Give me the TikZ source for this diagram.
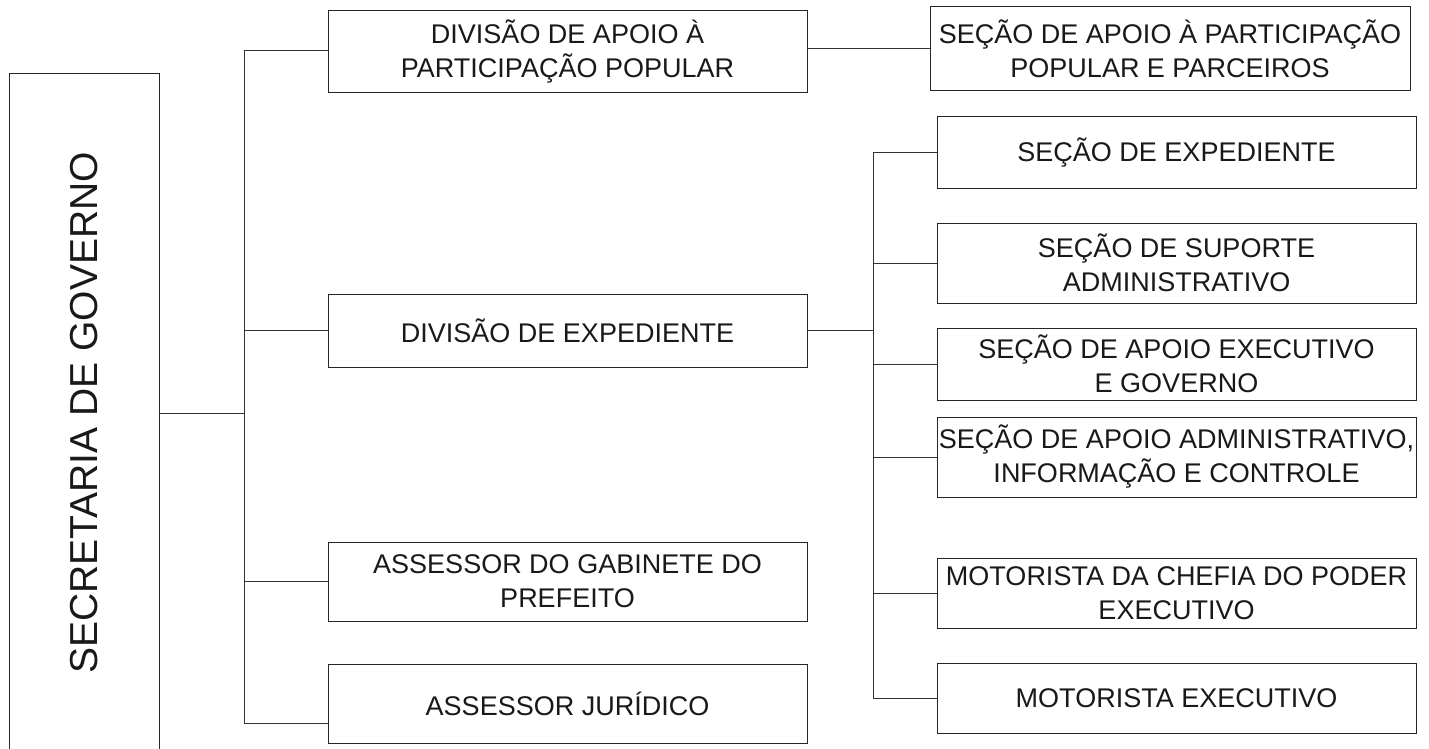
\documentclass[tikz,border=0pt]{standalone}
\usepackage{fontspec}
\setmainfont{Liberation Sans}
\tikzset{
  box/.style={draw=black!85, line width=1pt, inner sep=0pt, outer sep=0pt, align=center,
    font=\fontsize{27}{34}\selectfont, text=black!90},
  lbox/.style={box, minimum width=479pt},
  rbox/.style={box, minimum width=479pt},
  conn/.style={draw=black!80, line width=1pt},
}
\begin{document}
\begin{tikzpicture}[x=1pt,y=-1pt]
\useasboundingbox (0,0) rectangle (1429,749);
\fill[white] (0,0) rectangle (1429,749);
% root
\node[box, minimum width=150pt, minimum height=678pt] (sec) at (84,413)
  {\rotatebox{90}{\fontsize{39}{39}\selectfont SECRETARIA DE GOVERNO}};
% left column
\node[lbox, minimum height=82pt] (dap) at (567.5,52) {DIVISÃO DE APOIO À\\PARTICIPAÇÃO POPULAR};
\node[lbox, minimum height=73pt] (dex) at (567.5,330.5) {DIVISÃO DE EXPEDIENTE};
\node[lbox, minimum height=79pt] (agp) at (567.5,581.5) {ASSESSOR DO GABINETE DO\\PREFEITO};
\node[lbox, minimum height=79pt] (ajr) at (567.5,703.5) {ASSESSOR JURÍDICO};
% right column
\node[box, minimum width=480pt, minimum height=84pt] (sap) at (1170,49) {SEÇÃO DE APOIO À PARTICIPAÇÃO\\POPULAR E PARCEIROS};
\node[rbox, minimum height=71pt] (sexp) at (1176.5,152.5) {SEÇÃO DE EXPEDIENTE};
\node[rbox, minimum height=80pt] (ssup) at (1176.5,263) {SEÇÃO DE SUPORTE\\ADMINISTRATIVO};
\node[rbox, minimum height=72pt] (sexe) at (1176.5,364) {SEÇÃO DE APOIO EXECUTIVO\\E GOVERNO};
\node[rbox, minimum height=80pt] (sadm) at (1176.5,457) {SEÇÃO DE APOIO ADMINISTRATIVO,\\INFORMAÇÃO E CONTROLE};
\node[rbox, minimum height=70pt] (mch) at (1176.5,593) {MOTORISTA DA CHEFIA DO PODER\\EXECUTIVO};
\node[rbox, minimum height=70pt] (mex) at (1176.5,698) {MOTORISTA EXECUTIVO};
% bus 1
\coordinate (b1t) at (244,51);
\coordinate (b1b) at (244,723);
\draw[conn] (sec.east) -- (sec.east -| b1t);
\draw[conn] (b1t) -- (b1b);
\draw[conn] (b1t) -- (b1t -| dap.west);
\draw[conn] (dex.west -| b1t) -- (dex.west);
\draw[conn] (agp.west -| b1t) -- (agp.west);
\draw[conn] (b1b) -- (b1b -| ajr.west);
% dap to sap
\draw[conn] (dap.east |- sap.west) -- (sap.west);
% bus 2
\coordinate (b2) at (873,330.5);
\draw[conn] (dex.east) -- (b2);
\draw[conn] (sexp.west -| b2) -- (mex.west -| b2);
\foreach \n in {sexp,ssup,sexe,sadm,mch,mex}
  \draw[conn] (\n.west -| b2) -- (\n.west);
\end{tikzpicture}
\end{document}
